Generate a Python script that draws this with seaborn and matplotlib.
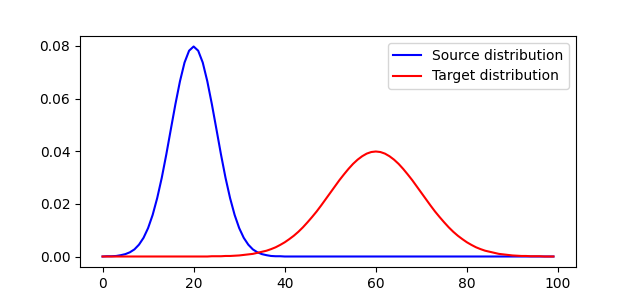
import numpy as np
import pandas as pd
import matplotlib
matplotlib.use("Agg")
import matplotlib.pyplot as plt
import seaborn as sns

x_vals = list(range(100))

source_vals = [
    0.0000, 0.0001, 0.0001, 0.0002, 0.0005, 0.0009, 0.0016, 0.0027, 0.0045, 0.0071,
    0.0108, 0.0158, 0.0222, 0.0299, 0.0388, 0.0484, 0.0579, 0.0666, 0.0737, 0.0782,
    0.0798, 0.0782, 0.0737, 0.0666, 0.0579, 0.0484, 0.0388, 0.0299, 0.0222, 0.0158,
    0.0108, 0.0071, 0.0045, 0.0027, 0.0016, 0.0009, 0.0005, 0.0002, 0.0001, 0.0001,
    0.0000, 0.0000, 0.0000, 0.0000, 0.0000, 0.0000, 0.0000, 0.0000, 0.0000, 0.0000,
    0.0000, 0.0000, 0.0000, 0.0000, 0.0000, 0.0000, 0.0000, 0.0000, 0.0000, 0.0000,
    0.0000, 0.0000, 0.0000, 0.0000, 0.0000, 0.0000, 0.0000, 0.0000, 0.0000, 0.0000,
    0.0000, 0.0000, 0.0000, 0.0000, 0.0000, 0.0000, 0.0000, 0.0000, 0.0000, 0.0000,
    0.0000, 0.0000, 0.0000, 0.0000, 0.0000, 0.0000, 0.0000, 0.0000, 0.0000, 0.0000,
    0.0000, 0.0000, 0.0000, 0.0000, 0.0000, 0.0000, 0.0000, 0.0000, 0.0000, 0.0000,
]

target_vals = [
    0.0000, 0.0000, 0.0000, 0.0000, 0.0000, 0.0000, 0.0000, 0.0000, 0.0000, 0.0000,
    0.0000, 0.0000, 0.0000, 0.0000, 0.0000, 0.0000, 0.0000, 0.0000, 0.0000, 0.0000,
    0.0000, 0.0000, 0.0000, 0.0000, 0.0001, 0.0001, 0.0001, 0.0002, 0.0002, 0.0003,
    0.0004, 0.0006, 0.0008, 0.0010, 0.0014, 0.0018, 0.0022, 0.0028, 0.0035, 0.0044,
    0.0054, 0.0066, 0.0079, 0.0094, 0.0111, 0.0130, 0.0150, 0.0171, 0.0194, 0.0218,
    0.0242, 0.0266, 0.0290, 0.0312, 0.0333, 0.0352, 0.0368, 0.0381, 0.0391, 0.0397,
    0.0399, 0.0397, 0.0391, 0.0381, 0.0368, 0.0352, 0.0333, 0.0312, 0.0290, 0.0266,
    0.0242, 0.0218, 0.0194, 0.0171, 0.0150, 0.0130, 0.0111, 0.0094, 0.0079, 0.0066,
    0.0054, 0.0044, 0.0035, 0.0028, 0.0022, 0.0018, 0.0014, 0.0010, 0.0008, 0.0006,
    0.0004, 0.0003, 0.0002, 0.0002, 0.0001, 0.0001, 0.0001, 0.0000, 0.0000, 0.0000,
]

df = pd.DataFrame({
    "x": x_vals,
    "source": source_vals,
    "target": target_vals,
})

fig, ax = plt.subplots(figsize=(6.4, 3.0), dpi=100)

sns.lineplot(data=df, x="x", y="source", color="blue",
             label="Source distribution", ax=ax)
sns.lineplot(data=df, x="x", y="target", color="red",
             label="Target distribution", ax=ax)

ax.set_xlabel("")
ax.set_ylabel("")
ax.legend(loc="upper right")

fig.savefig("out.png", dpi=100)
